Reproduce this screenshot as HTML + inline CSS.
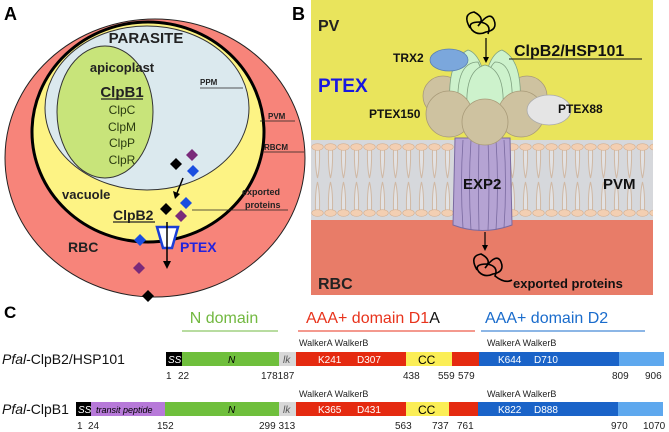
<!DOCTYPE html>
<html><head><meta charset="utf-8"><style>
html,body{margin:0;padding:0;background:#fff;}
svg{display:block;font-family:"Liberation Sans",sans-serif;}
</style></head><body>
<svg width="669" height="432" viewBox="0 0 669 432" xmlns="http://www.w3.org/2000/svg">
<defs>
<pattern id="lip" x="311" y="140" width="13" height="80" patternUnits="userSpaceOnUse">
<rect width="13" height="80" fill="#d6d8dc"/>
<path d="M4.5 10 Q4 28 6.5 38 Q9 28 8.5 10 M4.5 70 Q4 52 6.5 42 Q9 52 8.5 70" fill="#e2e2e4" stroke="#cfb8a4" stroke-width="1"/>
<ellipse cx="6.5" cy="7" rx="5.8" ry="3.3" fill="#f3cfb2" stroke="#d6b090" stroke-width="0.6"/>
<ellipse cx="6.5" cy="73" rx="5.8" ry="3.3" fill="#f3cfb2" stroke="#d6b090" stroke-width="0.6"/>
</pattern>
</defs>
<!-- Panel A -->
<text x="4" y="20" font-size="18" font-weight="bold">A</text>
<ellipse cx="155" cy="158" rx="150" ry="139" fill="#f7847a" stroke="#222" stroke-width="1"/>
<ellipse cx="148" cy="132" rx="116" ry="110" fill="#fdf384" stroke="#000" stroke-width="3"/>
<ellipse cx="147" cy="108" rx="102" ry="82" fill="#dbe9ee" stroke="#333" stroke-width="1"/>
<ellipse cx="105" cy="112" rx="48" ry="66" fill="#c8e47a" stroke="#333" stroke-width="1"/>
<text x="146" y="43" font-size="15" font-weight="bold" text-anchor="middle" fill="#222">PARASITE</text>
<text x="122" y="72" font-size="13" font-weight="bold" text-anchor="middle" fill="#222">apicoplast</text>
<text x="122" y="97" font-size="15" font-weight="bold" text-anchor="middle" fill="#222">ClpB1</text>
<line x1="101" y1="99" x2="143" y2="99" stroke="#222" stroke-width="1.2"/>
<g font-size="12" text-anchor="middle" fill="#2a3a10">
<text x="122" y="114">ClpC</text><text x="122" y="131">ClpM</text><text x="122" y="147">ClpP</text><text x="122" y="164">ClpR</text></g>
<g font-size="8" font-weight="bold" fill="#222">
<text x="200" y="85">PPM</text><text x="268" y="119">PVM</text><text x="264" y="150">RBCM</text>
<text x="242" y="195" font-size="9">exported</text><text x="245" y="208" font-size="9">proteins</text></g>
<g stroke="#222" stroke-width="0.8">
<line x1="200" y1="88" x2="243" y2="88"/><line x1="260" y1="121" x2="295" y2="121"/><line x1="264" y1="152" x2="304" y2="152"/><line x1="192" y1="210" x2="288" y2="210"/></g>
<text x="62" y="199" font-size="13" font-weight="bold" fill="#222">vacuole</text>
<text x="113" y="220" font-size="14" font-weight="bold" fill="#222">ClpB2</text>
<line x1="113" y1="222" x2="155" y2="222" stroke="#222" stroke-width="1.2"/>
<text x="68" y="252" font-size="14" font-weight="bold" fill="#222">RBC</text>
<text x="180" y="252" font-size="14" font-weight="bold" fill="#2222dd">PTEX</text>
<polygon points="157,227 178,227 172,248 163,248" fill="#fff" stroke="#1a3fd6" stroke-width="2.5"/>
<line x1="167" y1="222" x2="167" y2="262" stroke="#000" stroke-width="1.5"/><polygon points="163,261 171,261 167,269"/>
<line x1="183" y1="178" x2="177" y2="193" stroke="#000" stroke-width="1.5"/><polygon points="173,191 180,194 175,199"/>
<g stroke="none">
<polygon points="192,149 198,155 192,161 186,155" fill="#7a2a7a"/>
<polygon points="176,158 182,164 176,170 170,164" fill="#000"/>
<polygon points="193,165 199,171 193,177 187,171" fill="#1a4ee0"/>
<polygon points="166,203 172,209 166,215 160,209" fill="#000"/>
<polygon points="186,197 192,203 186,209 180,203" fill="#1a4ee0"/>
<polygon points="181,210 187,216 181,222 175,216" fill="#7a2a7a"/>
<polygon points="140,234 146,240 140,246 134,240" fill="#1a4ee0"/>
<polygon points="139,262 145,268 139,274 133,268" fill="#7a2a7a"/>
<polygon points="148,290 154,296 148,302 142,296" fill="#000"/></g>
<!-- Panel B -->
<text x="292" y="20" font-size="18" font-weight="bold">B</text>
<rect x="311" y="0" width="342" height="146" fill="#e9e45c"/>
<rect x="311" y="214" width="342" height="81" fill="#e87c68"/>
<rect x="311" y="140" width="342" height="80" fill="url(#lip)"/>
<text x="318" y="31" font-size="16" font-weight="bold" fill="#222">PV</text>
<text x="318" y="92" font-size="19" font-weight="bold" fill="#1818e0">PTEX</text>
<text x="318" y="289" font-size="16" font-weight="bold" fill="#222">RBC</text>
<path d="M455 138 L510 138 L512 225 Q482 236 453 225 Z" fill="#b5a3d3" stroke="#7a6aa0"/>
<g stroke="#7a6aa0" fill="none" stroke-width="0.8"><path d="M463 140 Q460 185 463 228"/><path d="M471 140 Q468 185 471 230"/><path d="M479 140 Q478 185 479 231"/><path d="M488 140 Q490 185 488 231"/><path d="M496 140 Q499 185 496 230"/><path d="M504 140 Q507 185 504 228"/></g>
<g fill="#cec2a0" stroke="#a89a78" stroke-width="0.8">
<circle cx="443" cy="96" r="20"/><circle cx="527" cy="96" r="20"/></g>
<g fill="#cdf2cc" stroke="#7fa07f" stroke-width="0.8">
<path d="M450 105 Q447 60 468 50 Q485 55 488 105 Z"/><path d="M482 105 Q485 55 502 50 Q523 60 520 105 Z"/>
<path d="M458 105 Q456 62 478 62 Q485 75 485 105 Z"/><path d="M485 105 Q485 70 495 62 Q514 62 512 105 Z"/>
<path d="M467 108 Q465 70 485 65 Q505 70 503 108 Z"/></g>
<g fill="#cec2a0" stroke="#a89a78" stroke-width="0.8">
<circle cx="449" cy="114" r="23"/><circle cx="521" cy="114" r="23"/><circle cx="485" cy="122" r="23"/></g>
<ellipse cx="449" cy="60" rx="19" ry="11" fill="#7ba7dc" stroke="#5a80b0" stroke-width="0.8"/>
<ellipse cx="549" cy="110" rx="22" ry="15" fill="#e5e5e5" stroke="#aaa" stroke-width="0.8"/>
<g font-size="12" font-weight="bold" fill="#111">
<text x="393" y="62">TRX2</text><text x="369" y="118">PTEX150</text><text x="558" y="113">PTEX88</text></g>
<text x="463" y="189" font-size="15" font-weight="bold" fill="#111">EXP2</text>
<text x="603" y="189" font-size="15" font-weight="bold" fill="#111">PVM</text>
<text x="514" y="56" font-size="16" font-weight="bold" fill="#111">ClpB2/HSP101</text>
<line x1="509" y1="59" x2="642" y2="59" stroke="#111" stroke-width="1"/>
<text x="513" y="288" font-size="13" font-weight="bold" fill="#111">exported proteins</text>
<g fill="none" stroke="#000" stroke-width="1.6">
<path d="M470 28 Q462 14 474 12 Q486 18 478 26 Q490 10 494 20 Q498 30 486 32 Q478 36 472 30 Q466 22 480 22 Q492 24 488 34"/>
<path d="M477 270 Q469 256 481 254 Q493 260 485 268 Q497 252 501 262 Q505 272 493 274 Q485 278 479 272 Q473 264 487 264 Q499 266 495 276 Q505 284 512 280"/></g>
<line x1="486" y1="38" x2="486" y2="58" stroke="#000" stroke-width="1.2"/><polygon points="483,57 489,57 486,63"/>
<line x1="485" y1="232" x2="485" y2="246" stroke="#000" stroke-width="1.2"/><polygon points="482,245 488,245 485,251"/>
<!-- Panel C -->
<text x="4" y="318" font-size="17" font-weight="bold">C</text>
<text x="224" y="323" font-size="16" fill="#72b840" text-anchor="middle">N domain</text>
<line x1="182" y1="331" x2="278" y2="331" stroke="#72b840" stroke-width="1"/>
<text x="306" y="323" font-size="16" fill="#e8331c">AAA+ domain D1<tspan fill="#111">A</tspan></text>
<line x1="298" y1="331" x2="475" y2="331" stroke="#e8331c" stroke-width="1"/>
<text x="485" y="323" font-size="16" fill="#1a6ccc">AAA+ domain D2</text>
<line x1="481" y1="331" x2="645" y2="331" stroke="#1a6ccc" stroke-width="1"/>
<g font-size="9" fill="#222"><text x="299" y="346">WalkerA WalkerB</text><text x="487" y="346">WalkerA WalkerB</text>
<text x="299" y="397">WalkerA WalkerB</text><text x="487" y="397">WalkerA WalkerB</text></g>
<text x="2" y="364" font-size="14" fill="#111"><tspan font-style="italic">Pfal</tspan>-ClpB2/HSP101</text>
<text x="2" y="414" font-size="14" fill="#111"><tspan font-style="italic">Pfal</tspan>-ClpB1</text>
<g>
<rect x="166" y="352" width="16" height="14" fill="#000"/>
<rect x="182" y="352" width="97" height="14" fill="#6fbf3c"/>
<rect x="279" y="352" width="17" height="14" fill="#d8d8d8"/>
<rect x="296" y="352" width="110" height="14" fill="#e52a10"/>
<rect x="406" y="352" width="46" height="14" fill="#fbee56"/>
<rect x="452" y="352" width="27" height="14" fill="#e52a10"/>
<rect x="479" y="352" width="140" height="14" fill="#1a63c8"/>
<rect x="619" y="352" width="45" height="14" fill="#5ea8ee"/>
</g>
<g>
<rect x="76" y="402" width="15" height="14" fill="#000"/>
<rect x="91" y="402" width="74" height="14" fill="#b779d9"/>
<rect x="165" y="402" width="114" height="14" fill="#6fbf3c"/>
<rect x="279" y="402" width="17" height="14" fill="#d8d8d8"/>
<rect x="296" y="402" width="110" height="14" fill="#e52a10"/>
<rect x="406" y="402" width="43" height="14" fill="#fbee56"/>
<rect x="449" y="402" width="29" height="14" fill="#e52a10"/>
<rect x="478" y="402" width="140" height="14" fill="#1a63c8"/>
<rect x="618" y="402" width="45" height="14" fill="#5ea8ee"/>
</g>
<g font-size="10">
<text x="168" y="363" fill="#fff" font-style="italic">SS</text><text x="228" y="363" font-style="italic">N</text><text x="283" y="363" font-style="italic" fill="#555">lk</text>
<text x="318" y="363" fill="#fff">K241</text><text x="357" y="363" fill="#fff">D307</text><text x="418" y="364" font-size="12">CC</text>
<text x="498" y="363" fill="#fff">K644</text><text x="534" y="363" fill="#fff">D710</text>
<text x="78" y="413" fill="#fff" font-style="italic">SS</text><text x="96" y="413" font-style="italic" font-size="9">transit peptide</text><text x="228" y="413" font-style="italic">N</text><text x="283" y="413" font-style="italic" fill="#555">lk</text>
<text x="318" y="413" fill="#fff">K365</text><text x="357" y="413" fill="#fff">D431</text><text x="418" y="414" font-size="12">CC</text>
<text x="498" y="413" fill="#fff">K822</text><text x="534" y="413" fill="#fff">D888</text>
</g>
<g font-size="10" fill="#222">
<text x="166" y="379">1</text><text x="178" y="379">22</text><text x="261" y="379">178187</text><text x="403" y="379">438</text><text x="438" y="379">559</text><text x="458" y="379">579</text><text x="612" y="379">809</text><text x="645" y="379">906</text>
<text x="77" y="429">1</text><text x="88" y="429">24</text><text x="157" y="429">152</text><text x="259" y="429">299 313</text><text x="395" y="429">563</text><text x="432" y="429">737</text><text x="457" y="429">761</text><text x="611" y="429">970</text><text x="643" y="429">1070</text>
</g>
</svg>
</body></html>
